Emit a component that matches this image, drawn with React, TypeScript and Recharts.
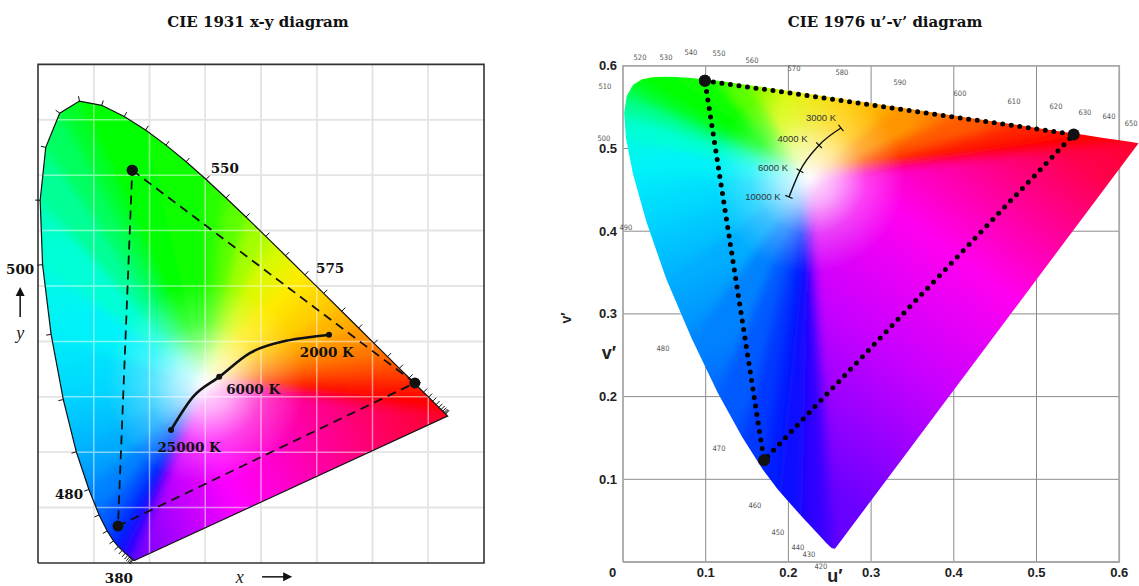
import React from 'react';
import { ScatterChart, Scatter, XAxis, YAxis, Curve } from 'recharts';

/* ---------- CIE 1931 x-y ---------- */

// spectral locus, 5 nm steps
const locus1931 = [
  { nm: 380, x: 0.1741, y: 0.005 }, { nm: 385, x: 0.174, y: 0.005 }, { nm: 390, x: 0.1738, y: 0.0049 },
  { nm: 395, x: 0.1736, y: 0.0049 }, { nm: 400, x: 0.1733, y: 0.0048 }, { nm: 405, x: 0.173, y: 0.0048 },
  { nm: 410, x: 0.1726, y: 0.0048 }, { nm: 415, x: 0.1721, y: 0.0048 }, { nm: 420, x: 0.1714, y: 0.0051 },
  { nm: 425, x: 0.1703, y: 0.0058 }, { nm: 430, x: 0.1689, y: 0.0069 }, { nm: 435, x: 0.1669, y: 0.0086 },
  { nm: 440, x: 0.1644, y: 0.0109 }, { nm: 445, x: 0.1611, y: 0.0138 }, { nm: 450, x: 0.1566, y: 0.0177 },
  { nm: 455, x: 0.151, y: 0.0227 }, { nm: 460, x: 0.144, y: 0.0297 }, { nm: 465, x: 0.1355, y: 0.0399 },
  { nm: 470, x: 0.1241, y: 0.0578 }, { nm: 475, x: 0.1096, y: 0.0868 }, { nm: 480, x: 0.0913, y: 0.1327 },
  { nm: 485, x: 0.0687, y: 0.2007 }, { nm: 490, x: 0.0454, y: 0.295 }, { nm: 495, x: 0.0235, y: 0.4127 },
  { nm: 500, x: 0.0082, y: 0.5384 }, { nm: 505, x: 0.0039, y: 0.6548 }, { nm: 510, x: 0.0139, y: 0.7502 },
  { nm: 515, x: 0.0389, y: 0.812 }, { nm: 520, x: 0.0743, y: 0.8338 }, { nm: 525, x: 0.1142, y: 0.8262 },
  { nm: 530, x: 0.1547, y: 0.8059 }, { nm: 535, x: 0.1929, y: 0.7816 }, { nm: 540, x: 0.2296, y: 0.7543 },
  { nm: 545, x: 0.2658, y: 0.7243 }, { nm: 550, x: 0.3016, y: 0.6923 }, { nm: 555, x: 0.3373, y: 0.6589 },
  { nm: 560, x: 0.3731, y: 0.6245 }, { nm: 565, x: 0.4087, y: 0.5896 }, { nm: 570, x: 0.4441, y: 0.5547 },
  { nm: 575, x: 0.4788, y: 0.5202 }, { nm: 580, x: 0.5125, y: 0.4866 }, { nm: 585, x: 0.5448, y: 0.4544 },
  { nm: 590, x: 0.5752, y: 0.4242 }, { nm: 595, x: 0.6029, y: 0.3965 }, { nm: 600, x: 0.627, y: 0.3725 },
  { nm: 605, x: 0.6482, y: 0.3514 }, { nm: 610, x: 0.6658, y: 0.334 }, { nm: 615, x: 0.6801, y: 0.3197 },
  { nm: 620, x: 0.6915, y: 0.3083 }, { nm: 625, x: 0.7006, y: 0.2993 }, { nm: 630, x: 0.7079, y: 0.292 },
  { nm: 635, x: 0.714, y: 0.2859 }, { nm: 640, x: 0.719, y: 0.2809 }, { nm: 645, x: 0.723, y: 0.277 },
  { nm: 650, x: 0.726, y: 0.274 }, { nm: 655, x: 0.7283, y: 0.2717 }, { nm: 660, x: 0.73, y: 0.27 },
  { nm: 665, x: 0.7311, y: 0.2689 }, { nm: 670, x: 0.732, y: 0.268 }, { nm: 675, x: 0.7327, y: 0.2673 },
  { nm: 680, x: 0.7334, y: 0.2666 }, { nm: 685, x: 0.734, y: 0.266 }, { nm: 690, x: 0.7344, y: 0.2656 },
  { nm: 695, x: 0.7346, y: 0.2654 }, { nm: 700, x: 0.7347, y: 0.2653 },
];

const white1931 = { x: 0.3, y: 0.325 };

// dashed gamut triangle: green, red, blue, back to green
const gamut1931 = [
  { x: 0.169, y: 0.709 },
  { x: 0.676, y: 0.325 },
  { x: 0.1435, y: 0.0668 },
  { x: 0.169, y: 0.709 },
];

const planckCurve1931 = [
  { x: 0.2386, y: 0.24 }, { x: 0.278, y: 0.3 }, { x: 0.325, y: 0.336 }, { x: 0.38, y: 0.379 },
  { x: 0.445, y: 0.401 }, { x: 0.49, y: 0.408 }, { x: 0.522, y: 0.412 },
];
const planckDots1931 = [{ x: 0.2386, y: 0.24 }, { x: 0.325, y: 0.336 }, { x: 0.522, y: 0.412 }];
const tempLabels1931 = [
  { label: '25000 K', x: 0.271, y: 0.209 },
  { label: '6000 K', x: 0.386, y: 0.314 },
  { label: '2000 K', x: 0.518, y: 0.381 },
];
const nmLabels1931 = [
  { label: '550', x: 0.335, y: 0.713 },
  { label: '575', x: 0.524, y: 0.532 },
  { label: '500', x: -0.032, y: 0.531 },
  { label: '480', x: 0.0556, y: 0.1245 },
  { label: '380', x: 0.145, y: -0.027 },
];
const axisText1931 = [
  { label: 'x', x: 0.362, y: -0.025 },
  { label: 'y', x: -0.032, y: 0.415 },
];
const xArrow1931 = [{ x: 0.402, y: -0.025 }];
const yArrow1931 = [{ x: -0.032, y: 0.444 }];

const gridX1931 = [0.1, 0.2, 0.3, 0.4, 0.5, 0.6, 0.7];
const gridY1931 = [0.1, 0.2, 0.3, 0.4, 0.5, 0.6, 0.7, 0.8];
const xMax1931 = 0.8;
const yMax1931 = 0.9;

/* ---------- CIE 1976 u'-v' ---------- */

const locus1976 = [
  { nm: 380, u: 0.2568, v: 0.0166 }, { nm: 400, u: 0.2557, v: 0.0159 }, { nm: 420, u: 0.2522, v: 0.0169 },
  { nm: 430, u: 0.2461, v: 0.0226 }, { nm: 440, u: 0.2347, v: 0.035 }, { nm: 450, u: 0.2161, v: 0.0549 },
  { nm: 460, u: 0.1877, v: 0.0871 }, { nm: 465, u: 0.169, v: 0.1119 }, { nm: 470, u: 0.1441, v: 0.151 },
  { nm: 475, u: 0.1147, v: 0.2044 }, { nm: 480, u: 0.0828, v: 0.2708 }, { nm: 485, u: 0.0521, v: 0.3427 },
  { nm: 490, u: 0.0282, v: 0.4117 }, { nm: 495, u: 0.0119, v: 0.4698 }, { nm: 500, u: 0.0035, v: 0.5131 },
  { nm: 505, u: 0.0014, v: 0.5432 }, { nm: 510, u: 0.0046, v: 0.5638 }, { nm: 515, u: 0.0123, v: 0.577 },
  { nm: 520, u: 0.0231, v: 0.5837 }, { nm: 525, u: 0.036, v: 0.5861 }, { nm: 530, u: 0.0501, v: 0.5868 },
  { nm: 535, u: 0.0643, v: 0.5865 }, { nm: 540, u: 0.0792, v: 0.5856 }, { nm: 550, u: 0.1127, v: 0.5821 },
  { nm: 560, u: 0.1531, v: 0.5766 }, { nm: 570, u: 0.2026, v: 0.5694 }, { nm: 580, u: 0.2623, v: 0.5604 },
  { nm: 590, u: 0.3315, v: 0.5501 }, { nm: 600, u: 0.4035, v: 0.5393 }, { nm: 610, u: 0.4692, v: 0.5296 },
  { nm: 620, u: 0.5203, v: 0.5219 }, { nm: 630, u: 0.5565, v: 0.5165 }, { nm: 640, u: 0.583, v: 0.5125 },
  { nm: 650, u: 0.6005, v: 0.5099 }, { nm: 660, u: 0.6109, v: 0.5084 }, { nm: 680, u: 0.6199, v: 0.507 },
  { nm: 700, u: 0.6234, v: 0.5065 },
];

const white1976 = { u: 0.225, v: 0.465 };

// dotted gamut triangle: green, red, blue, back to green
const gamut1976 = [
  { u: 0.099, v: 0.582 },
  { u: 0.545, v: 0.517 },
  { u: 0.1705, v: 0.123 },
  { u: 0.099, v: 0.582 },
];

const planck1976 = [
  { u: 0.2007, v: 0.4414 },
  { u: 0.214, v: 0.473 },
  { u: 0.237, v: 0.504 },
  { u: 0.2636, v: 0.5248 },
];
const tempLabels1976 = [
  { label: '3000 K', u: 0.2394, v: 0.5369 },
  { label: '4000 K', u: 0.205, v: 0.5127 },
  { label: '6000 K', u: 0.1814, v: 0.4776 },
  { label: '10000 K', u: 0.1693, v: 0.4414 },
];

const nmLabels1976 = [
  { label: '520', u: 0.0206, v: 0.6106 }, { label: '530', u: 0.052, v: 0.6106 },
  { label: '540', u: 0.0822, v: 0.6155 }, { label: '550', u: 0.1161, v: 0.6143 },
  { label: '560', u: 0.156, v: 0.607 }, { label: '570', u: 0.2068, v: 0.5973 },
  { label: '580', u: 0.2648, v: 0.5913 }, { label: '590', u: 0.3349, v: 0.5804 },
  { label: '600', u: 0.4075, v: 0.5671 }, { label: '610', u: 0.4728, v: 0.5574 },
  { label: '620', u: 0.5236, v: 0.5502 }, { label: '630', u: 0.5586, v: 0.5441 },
  { label: '640', u: 0.5877, v: 0.5393 }, { label: '650', u: 0.6145, v: 0.5308 },
  { label: '510', u: -0.0218, v: 0.5744 }, { label: '500', u: -0.023, v: 0.5127 },
  { label: '490', u: 0.0036, v: 0.405 }, { label: '480', u: 0.0484, v: 0.2582 },
  { label: '470', u: 0.1161, v: 0.1378 }, { label: '460', u: 0.1596, v: 0.0689 },
  { label: '450', u: 0.1874, v: 0.0351 }, { label: '440', u: 0.2116, v: 0.0181 },
  { label: '430', u: 0.2249, v: 0.0085 }, { label: '420', u: 0.2394, v: -0.006 },
];

const uTicks = [0.1, 0.2, 0.3, 0.4, 0.5, 0.6];
const vTicks = [0.1, 0.2, 0.3, 0.4, 0.5, 0.6];
const gridU1976 = [0.1, 0.2, 0.3, 0.4, 0.5];
const gridV1976 = [0.1, 0.2, 0.3, 0.4, 0.5];
const uvMax = 0.6;
const axisText1976 = [
  { label: 'u′', u: 0.2563, v: -0.0165 },
  { label: 'v′', u: -0.0169, v: 0.2527 },
];
const rotatedText1976 = [{ label: 'v′', u: -0.0689, v: 0.295 }];

/* ---------- colours ---------- */

const SPECTRUM: [number, string][] = [
  [380, '#5a00ff'], [430, '#4600ff'], [450, '#2a00ff'], [462, '#0010ff'], [470, '#0038ff'],
  [477, '#0068ff'], [483, '#009cff'], [488, '#00c8ff'], [493, '#00eaff'], [498, '#00fff0'],
  [503, '#00ffb0'], [508, '#00ff70'], [515, '#00ff30'], [525, '#00ff00'], [552, '#0cff00'],
  [560, '#5cff00'], [567, '#c0ff00'], [574, '#fff000'], [581, '#ffcc00'],
  [590, '#ff9600'], [600, '#ff5a00'], [610, '#ff2800'], [622, '#ff0500'], [700, '#ff0018'],
];
const PURPLE_1931: [number, string][] = [
  [0, '#ff0018'], [0.2, '#ff0050'], [0.45, '#ff00b0'], [0.65, '#ff00ff'], [0.85, '#a000ff'], [1, '#5a00ff'],
];
const PURPLE_1976: [number, string][] = [
  [0, '#ff0018'], [0.15, '#ff0050'], [0.4, '#ff00f0'], [0.6, '#c800ff'], [0.85, '#6a00ff'], [1, '#5a00ff'],
];

const SERIF = "'DejaVu Serif', serif";
const SANS = "'Liberation Sans', Arial, sans-serif";
const NARROW = "'Liberation Sans Narrow', 'DejaVu Sans Condensed', sans-serif";

type Pt = { x: number; y: number };

const toPath = (pts: Pt[], close = false) =>
  pts.map((p, i) => `${i ? 'L' : 'M'}${p.x.toFixed(2)},${p.y.toFixed(2)}`).join('') + (close ? 'Z' : '');

const hexRgb = (h: string) => [1, 3, 5].map((i) => parseInt(h.slice(i, i + 2), 16));

const spectrumColor = (nm: number) => {
  let i = 0;
  while (i < SPECTRUM.length - 2 && nm > SPECTRUM[i + 1][0]) i += 1;
  const [n0, c0] = SPECTRUM[i];
  const [n1, c1] = SPECTRUM[i + 1];
  const t = Math.max(0, Math.min(1, (nm - n0) / (n1 - n0)));
  const a = hexRgb(c0);
  const b = hexRgb(c1);
  return `rgb(${a.map((v, k) => Math.round(v + (b[k] - v) * t)).join(',')})`;
};

/* ---------- renderers for Scatter's line / shape ---------- */

const noDot = () => <g />;

// fan of triangles from the white point (last point) to every locus edge,
// blurred a little and clipped to the horseshoe, then a white glow on top
const fanFill = (id: string, nms: number[], purple: [number, string][], glowR: number, blur: number) => (props: any) => {
  const pts: Pt[] = props.points;
  const w = pts[pts.length - 1];
  const loc = pts.slice(0, -1);
  const n = loc.length;
  const grow = (p: Pt) => ({ x: w.x + (p.x - w.x) * 1.15, y: w.y + (p.y - w.y) * 1.15 });
  const defs: React.ReactNode[] = [];
  const tris: React.ReactNode[] = [];
  for (let i = 0; i < n; i += 1) {
    const a = grow(loc[i]);
    const b = grow(loc[(i + 1) % n]);
    const gid = `${id}-g${i}`;
    const stops: [number, string][] =
      i === n - 1 ? purple : [[0, spectrumColor(nms[i])], [1, spectrumColor(nms[i + 1])]];
    defs.push(
      <linearGradient key={gid} id={gid} gradientUnits="userSpaceOnUse" x1={a.x} y1={a.y} x2={b.x} y2={b.y}>
        {stops.map(([o, c]) => <stop key={o} offset={o} stopColor={c} />)}
      </linearGradient>,
    );
    tris.push(
      <path key={gid} d={toPath([w, a, b], true)} fill={`url(#${gid})`} stroke={`url(#${gid})`}
        strokeWidth={1} strokeLinejoin="round" />,
    );
  }
  const outline = toPath(loc, true);
  return (
    <g>
      <defs>
        {defs}
        <radialGradient id={`${id}-glow`} gradientUnits="userSpaceOnUse" cx={w.x} cy={w.y} r={glowR}>
          <stop offset={0} stopColor="#fff" stopOpacity={0.95} />
          <stop offset={0.3} stopColor="#fff" stopOpacity={0.65} />
          <stop offset={0.6} stopColor="#fff" stopOpacity={0.25} />
          <stop offset={1} stopColor="#fff" stopOpacity={0} />
        </radialGradient>
        <filter id={`${id}-blur`} x="-10%" y="-10%" width="120%" height="120%">
          <feGaussianBlur stdDeviation={blur} />
        </filter>
        <clipPath id={`${id}-clip`}>
          <path d={outline} />
        </clipPath>
      </defs>
      <g clipPath={`url(#${id}-clip)`}>
        <g filter={`url(#${id}-blur)`}>{tris}</g>
      </g>
      <path d={outline} fill={`url(#${id}-glow)`} />
    </g>
  );
};

// pairs of points -> separate segments
const segments = (stroke: string, width: number) => (props: any) => {
  const pts: Pt[] = props.points;
  let d = '';
  for (let i = 0; i + 1 < pts.length; i += 2) d += toPath([pts[i], pts[i + 1]]);
  return <path d={d} stroke={stroke} strokeWidth={width} fill="none" />;
};

const polyline = (style: React.SVGProps<SVGPathElement>) => (props: any) => (
  <path d={toPath(props.points)} fill="none" {...style} />
);

const normalAt = (pts: Pt[], i: number) => {
  const a = pts[Math.max(0, i - 1)];
  const b = pts[Math.min(pts.length - 1, i + 1)];
  const tx = b.x - a.x;
  const ty = b.y - a.y;
  const len = Math.hypot(tx, ty);
  return { nx: -ty / (len || 1), ny: tx / (len || 1), len };
};

// closed locus outline with short outward wavelength ticks
const outlineWithTicks = (tickLen: number) => (props: any) => {
  const pts: Pt[] = props.points;
  const cx = pts.reduce((s, p) => s + p.x, 0) / pts.length;
  const cy = pts.reduce((s, p) => s + p.y, 0) / pts.length;
  let t = '';
  pts.forEach((p, i) => {
    let { nx, ny, len } = normalAt(pts, i);
    if (len < 1.5) return;
    if (nx * (p.x - cx) + ny * (p.y - cy) < 0) {
      nx = -nx;
      ny = -ny;
    }
    t += `M${p.x.toFixed(2)},${p.y.toFixed(2)}l${(nx * tickLen).toFixed(2)},${(ny * tickLen).toFixed(2)}`;
  });
  return (
    <g>
      <path d={toPath(pts, true)} fill="none" stroke="#111" strokeWidth={1.2} />
      <path d={t} stroke="#111" strokeWidth={1} fill="none" />
    </g>
  );
};

// smooth curve with small crossing ticks at every point
const curveWithCrossTicks = (half: number) => (props: any) => {
  const pts: Pt[] = props.points;
  let t = '';
  pts.forEach((p, i) => {
    const { nx, ny } = normalAt(pts, i);
    t += `M${(p.x - nx * half).toFixed(2)},${(p.y - ny * half).toFixed(2)}l${(2 * nx * half).toFixed(2)},${(2 * ny * half).toFixed(2)}`;
  });
  return (
    <g>
      <Curve points={pts} type="monotoneX" stroke="#111" strokeWidth={1.4} fill="none" />
      <path d={t} stroke="#111" strokeWidth={1.2} fill="none" />
    </g>
  );
};

const textShape = (style: React.SVGProps<SVGTextElement>, dx = 0, dy = 0) => (p: any) => (
  <text x={p.cx + dx} y={p.cy + dy} textAnchor="middle" dominantBaseline="central" {...style}>
    {p.payload.label}
  </text>
);

const rotatedTextShape = (style: React.SVGProps<SVGTextElement>) => (p: any) => (
  <text x={p.cx} y={p.cy} textAnchor="middle" dominantBaseline="central"
    transform={`rotate(-90 ${p.cx} ${p.cy})`} {...style}>
    {p.payload.label}
  </text>
);

const dotShape = (r: number) => (p: any) => <circle cx={p.cx} cy={p.cy} r={r} fill="#111" />;

const arrowRight = (p: any) => (
  <g>
    <line x1={p.cx} y1={p.cy} x2={p.cx + 23} y2={p.cy} stroke="#111" strokeWidth={1.5} />
    <path d={`M${p.cx + 30},${p.cy}l-9,-4.5l0,9z`} fill="#111" />
  </g>
);
const arrowUp = (p: any) => (
  <g>
    <line x1={p.cx} y1={p.cy} x2={p.cx} y2={p.cy - 23} stroke="#111" strokeWidth={1.5} />
    <path d={`M${p.cx},${p.cy - 30}l-4.5,9l9,0z`} fill="#111" />
  </g>
);

/* ---------- charts ---------- */

const W_LEFT = 555;
const W_RIGHT = 584;
const H = 586;
const NO_MARGIN = { top: 0, right: 0, bottom: 0, left: 0 };

const Chart1931 = () => {
  const fillData = [...locus1931, white1931];
  const gridData = [
    ...gridX1931.flatMap((x) => [{ x, y: 0 }, { x, y: yMax1931 }]),
    ...gridY1931.flatMap((y) => [{ x: 0, y }, { x: xMax1931, y }]),
  ];
  const boxData = [
    { x: 0, y: 0 }, { x: xMax1931, y: 0 }, { x: xMax1931, y: yMax1931 }, { x: 0, y: yMax1931 }, { x: 0, y: 0 },
  ];
  const nms = locus1931.map((d) => d.nm);
  const serifBold = { fontFamily: SERIF, fontWeight: 700, fontSize: 13.5, fill: '#111' };
  return (
    <ScatterChart width={W_LEFT} height={H} margin={NO_MARGIN}>
      <XAxis type="number" dataKey="x" domain={[-0.06816, 0.92735]} hide />
      <YAxis type="number" dataKey="y" domain={[-0.04152, 1.01625]} hide />
      <Scatter data={gridData} line={segments('#c8c8c8', 1.5)} shape={noDot} isAnimationActive={false} />
      <Scatter data={fillData} line={fanFill('f31', nms, PURPLE_1931, 100, 5)} shape={noDot} isAnimationActive={false} />
      <Scatter data={gridData} line={segments('rgba(255,255,255,0.5)', 1.5)} shape={noDot} isAnimationActive={false} />
      <Scatter data={boxData} line={polyline({ stroke: '#333', strokeWidth: 1.6 })} shape={noDot} isAnimationActive={false} />
      <Scatter data={locus1931} line={outlineWithTicks(5)} shape={noDot} isAnimationActive={false} />
      <Scatter data={gamut1931}
        line={polyline({ stroke: '#111', strokeWidth: 1.8, strokeDasharray: '9 6' })}
        shape={dotShape(5.5)} isAnimationActive={false} />
      <Scatter data={planckCurve1931}
        line={(p: any) => <Curve points={p.points} type="monotoneX" stroke="#111" strokeWidth={2.6} fill="none" />}
        shape={noDot} isAnimationActive={false} />
      <Scatter data={planckDots1931} shape={dotShape(3)} isAnimationActive={false} />
      <Scatter data={tempLabels1931} shape={textShape(serifBold)} isAnimationActive={false} />
      <Scatter data={nmLabels1931} shape={textShape(serifBold)} isAnimationActive={false} />
      <Scatter data={axisText1931}
        shape={textShape({ fontFamily: "'Liberation Serif', serif", fontStyle: 'italic', fontSize: 18, fill: '#222' })}
        isAnimationActive={false} />
      <Scatter data={xArrow1931} shape={arrowRight} isAnimationActive={false} />
      <Scatter data={yArrow1931} shape={arrowUp} isAnimationActive={false} />
    </ScatterChart>
  );
};

const Chart1976 = () => {
  const fillData = [...locus1976, white1976];
  const gridData = [
    ...gridU1976.flatMap((u) => [{ u, v: 0 }, { u, v: uvMax }]),
    ...gridV1976.flatMap((v) => [{ u: 0, v }, { u: uvMax, v }]),
  ];
  const boxData = [{ u: 0, v: 0 }, { u: uvMax, v: 0 }, { u: uvMax, v: uvMax }, { u: 0, v: uvMax }, { u: 0, v: 0 }];
  const uLabels = uTicks.map((t) => ({ u: t, v: 0, label: t.toFixed(1) }));
  const vLabels = vTicks.map((t) => ({ u: 0, v: t, label: t.toFixed(1) }));
  const origin = [{ u: 0, v: 0, label: '0' }];
  const nms = locus1976.map((d) => d.nm);
  const tickFont = { fontFamily: SANS, fontWeight: 700, fontSize: 13, fill: '#222' };
  return (
    <ScatterChart width={W_RIGHT} height={H} margin={NO_MARGIN}>
      <XAxis type="number" dataKey="u" domain={[-0.08222, 0.62394]} hide />
      <YAxis type="number" dataKey="v" domain={[-0.02902, 0.67957]} hide />
      <Scatter data={gridData} line={segments('#8c8c8c', 1)} shape={noDot} isAnimationActive={false} />
      <Scatter data={boxData} line={polyline({ stroke: '#a8a8a8', strokeWidth: 1.8 })} shape={noDot} isAnimationActive={false} />
      <Scatter data={fillData} line={fanFill('f76', nms, PURPLE_1976, 95, 5)} shape={noDot} isAnimationActive={false} />
      <Scatter data={gamut1976}
        line={polyline({ stroke: '#000', strokeWidth: 5, strokeLinecap: 'round', strokeDasharray: '0 8.6' })}
        shape={dotShape(6)} isAnimationActive={false} />
      <Scatter data={planck1976} line={curveWithCrossTicks(4)} shape={noDot} isAnimationActive={false} />
      <Scatter data={tempLabels1976}
        shape={textShape({ fontFamily: SANS, fontSize: 9.5, fill: '#333' })} isAnimationActive={false} />
      <Scatter data={nmLabels1976}
        shape={textShape({ fontFamily: NARROW, fontSize: 7.5, fill: '#555' })} isAnimationActive={false} />
      <Scatter data={uLabels} shape={textShape(tickFont, 0, 10)} isAnimationActive={false} />
      <Scatter data={vLabels} shape={textShape({ ...tickFont, textAnchor: 'end' }, -6, 0)} isAnimationActive={false} />
      <Scatter data={origin} shape={textShape(tickFont, -10.5, 10)} isAnimationActive={false} />
      <Scatter data={axisText1976}
        shape={textShape({ fontFamily: SANS, fontWeight: 700, fontSize: 18, fill: '#222' })} isAnimationActive={false} />
      <Scatter data={rotatedText1976}
        shape={rotatedTextShape({ fontFamily: SANS, fontWeight: 700, fontSize: 14, fill: '#222' })}
        isAnimationActive={false} />
    </ScatterChart>
  );
};

const titleStyle: React.CSSProperties = {
  position: 'absolute',
  top: 12,
  width: 320,
  textAlign: 'center',
  fontFamily: SERIF,
  fontWeight: 700,
  fontSize: 15,
  color: '#111',
  lineHeight: '20px',
};

export default function App() {
  return (
    <div style={{ position: 'absolute', left: 0, top: 0, width: 1139, height: 586, background: '#fff', overflow: 'hidden' }}>
      <div style={{ position: 'absolute', left: 0, top: 0 }}>
        <Chart1931 />
      </div>
      <div style={{ position: 'absolute', left: W_LEFT, top: 0 }}>
        <Chart1976 />
      </div>
      <div style={{ ...titleStyle, left: 258 - 160 }}>CIE 1931 x-y diagram</div>
      <div style={{ ...titleStyle, left: 885 - 160 }}>CIE 1976 u’-v’ diagram</div>
    </div>
  );
}
